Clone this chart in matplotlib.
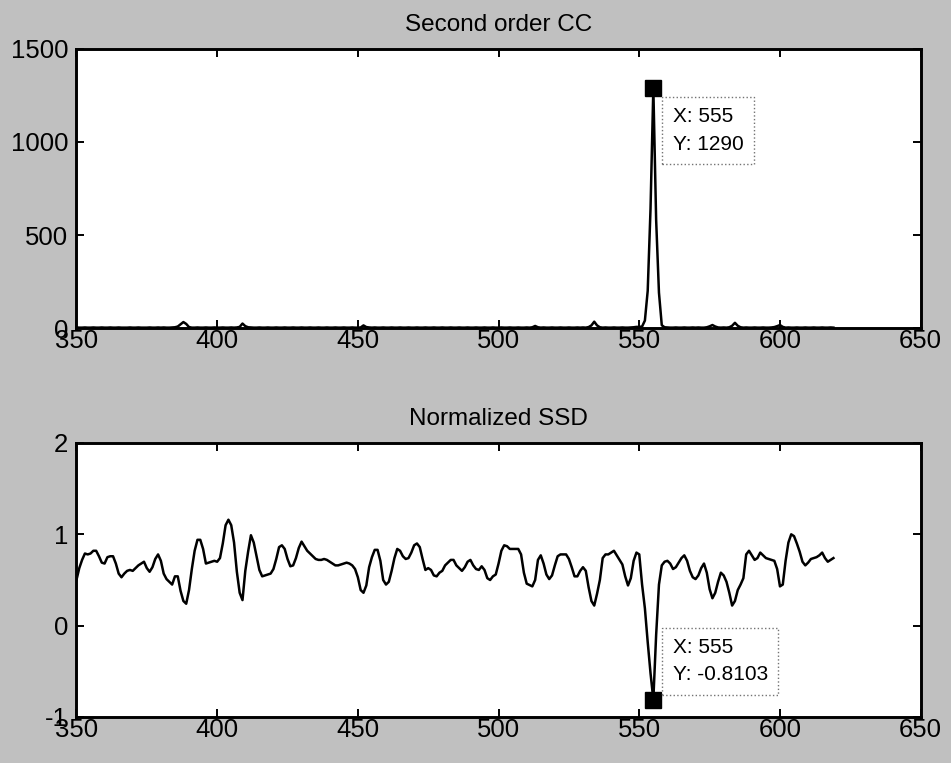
import numpy as np
import matplotlib.pyplot as plt

# lag positions searched (integer pixel offsets)
lags = np.arange(350, 620)

# second order cross-correlation score for each lag
cc2 = [
    3, 2, 2, 3, 2, 2, 3, 2, 2, 3,
    2, 2, 3, 2, 2, 3, 2, 2, 2, 3,
    2, 2, 3, 2, 2, 2, 3, 2, 2, 3,
    2, 3, 2, 2, 3, 4, 8, 20, 32, 22,
    5, 2, 2, 3, 2, 2, 3, 2, 2, 3,
    2, 2, 3, 2, 2, 3, 2, 3, 6, 24,
    10, 4, 3, 2, 2, 3, 2, 2, 3, 2,
    2, 3, 2, 2, 3, 2, 2, 3, 2, 2,
    3, 2, 2, 3, 2, 2, 3, 2, 2, 3,
    2, 2, 3, 2, 2, 3, 2, 2, 3, 2,
    2, 3, 14, 5, 3, 2, 3, 2, 2, 3,
    2, 2, 3, 2, 2, 3, 2, 2, 3, 2,
    2, 3, 2, 2, 3, 2, 2, 3, 2, 2,
    3, 2, 2, 3, 2, 2, 3, 2, 2, 3,
    2, 2, 3, 2, 2, 3, 2, 2, 3, 2,
    2, 3, 2, 2, 3, 2, 2, 3, 2, 2,
    3, 2, 4, 11, 4, 2, 3, 2, 2, 3,
    2, 2, 3, 2, 2, 3, 2, 2, 3, 2,
    3, 2, 5, 14, 34, 14, 4, 2, 3, 2,
    2, 3, 2, 2, 3, 2, 2, 3, 4, 6,
    6, 8, 40, 200, 640, 1290, 580, 190, 15, 4,
    3, 2, 2, 3, 2, 2, 3, 2, 2, 3,
    2, 3, 2, 2, 4, 9, 16, 8, 3, 2,
    3, 2, 4, 12, 28, 12, 4, 2, 3, 2,
    2, 3, 2, 2, 3, 2, 2, 3, 5, 10,
    16, 6, 2, 3, 2, 2, 3, 2, 2, 3,
    2, 2, 3, 2, 2, 3, 2, 2, 3, 2,
]

# normalized sum of squared differences for each lag
ssd = [
    0.50, 0.63, 0.72, 0.79, 0.78, 0.79, 0.82, 0.82, 0.76, 0.69,
    0.68, 0.75, 0.76, 0.76, 0.68, 0.57, 0.53, 0.57, 0.60, 0.61,
    0.60, 0.63, 0.66, 0.68, 0.70, 0.63, 0.59, 0.64, 0.73, 0.78,
    0.71, 0.57, 0.51, 0.48, 0.45, 0.54, 0.54, 0.38, 0.27, 0.24,
    0.39, 0.62, 0.82, 0.94, 0.94, 0.84, 0.68, 0.69, 0.70, 0.71,
    0.70, 0.74, 0.90, 1.10, 1.16, 1.10, 0.91, 0.59, 0.36, 0.28,
    0.60, 0.81, 0.99, 0.91, 0.76, 0.61, 0.54, 0.55, 0.56, 0.57,
    0.62, 0.73, 0.86, 0.88, 0.84, 0.73, 0.65, 0.66, 0.74, 0.85,
    0.92, 0.87, 0.82, 0.79, 0.76, 0.73, 0.72, 0.72, 0.73, 0.72,
    0.70, 0.68, 0.66, 0.66, 0.67, 0.68, 0.69, 0.68, 0.66, 0.62,
    0.53, 0.39, 0.36, 0.44, 0.64, 0.75, 0.83, 0.83, 0.71, 0.50,
    0.45, 0.48, 0.60, 0.74, 0.84, 0.82, 0.76, 0.73, 0.74, 0.80,
    0.88, 0.90, 0.86, 0.73, 0.61, 0.63, 0.61, 0.55, 0.54, 0.58,
    0.60, 0.66, 0.69, 0.72, 0.72, 0.66, 0.63, 0.60, 0.64, 0.70,
    0.72, 0.66, 0.62, 0.61, 0.65, 0.61, 0.52, 0.50, 0.54, 0.56,
    0.68, 0.82, 0.88, 0.87, 0.84, 0.84, 0.84, 0.84, 0.78, 0.58,
    0.46, 0.445, 0.43, 0.50, 0.72, 0.77, 0.68, 0.56, 0.51, 0.55,
    0.66, 0.76, 0.78, 0.78, 0.78, 0.73, 0.64, 0.54, 0.54, 0.60,
    0.64, 0.60, 0.42, 0.27, 0.22, 0.35, 0.50, 0.74, 0.78, 0.78,
    0.80, 0.82, 0.77, 0.72, 0.67, 0.54, 0.44, 0.52, 0.71, 0.80,
    0.78, 0.45, 0.19, -0.18, -0.52, -0.8103, -0.10, 0.45, 0.66, 0.70,
    0.71, 0.68, 0.62, 0.64, 0.69, 0.74, 0.77, 0.71, 0.60, 0.53,
    0.51, 0.55, 0.63, 0.68, 0.58, 0.40, 0.30, 0.36, 0.48, 0.58,
    0.55, 0.48, 0.36, 0.22, 0.27, 0.39, 0.45, 0.52, 0.78, 0.82,
    0.77, 0.72, 0.74, 0.80, 0.77, 0.74, 0.73, 0.72, 0.71, 0.62,
    0.43, 0.45, 0.71, 0.91, 1.00, 0.98, 0.90, 0.81, 0.70, 0.66,
    0.69, 0.73, 0.74, 0.75, 0.77, 0.80, 0.74, 0.70, 0.72, 0.74,
]

best_lag = 555
best_cc = 1290
best_ssd = -0.8103

plt.rcParams['font.family'] = ['Liberation Sans', 'DejaVu Sans']
plt.rcParams['axes.unicode_minus'] = False


def style_axes(ax, yticks, ylim):
    ax.set_xlim(350, 650)
    ax.set_ylim(*ylim)
    ax.set_xticks(range(350, 651, 50))
    ax.set_yticks(yticks)
    ax.tick_params(direction='in', length=6, width=1.4, top=True, right=True,
                   labelsize=18.5, colors='black')
    ax.tick_params(axis='x', pad=1)
    ax.tick_params(axis='y', pad=6)
    for sp in ax.spines.values():
        sp.set_linewidth(2.1)


def datatip(ax, x, y, below):
    ax.plot(x, y, 's', color='black', ms=11, zorder=5)
    text = 'X: %d\nY: %s' % (x, ('%g' % y))
    box = dict(boxstyle='square,pad=0.5', fc='white', ec='0.45', ls=':', lw=1)
    if below:
        ax.annotate(text, xy=(x, y), xytext=(14, -14), textcoords='offset points',
                    ha='left', va='top', fontsize=15, linespacing=1.55,
                    bbox=box, zorder=6)
    else:
        ax.annotate(text, xy=(x, y), xytext=(14, 11), textcoords='offset points',
                    ha='left', va='bottom', fontsize=15, linespacing=1.55,
                    bbox=box, zorder=6)


def main():
    fig = plt.figure(figsize=(9.51, 7.63), dpi=100, facecolor='#c0c0c0')

    ax1 = fig.add_axes([0.0804, 0.5701, 0.8877, 0.3657])
    ax1.plot(lags, cc2, color='black', lw=1.8)
    style_axes(ax1, [0, 500, 1000, 1500], (0, 1500))
    ax1.set_title('Second order CC', fontsize=17.5, pad=13)
    datatip(ax1, best_lag, best_cc, below=True)

    ax2 = fig.add_axes([0.0804, 0.0603, 0.8877, 0.3591])
    ax2.plot(lags, ssd, color='black', lw=1.8)
    style_axes(ax2, [-1, 0, 1, 2], (-1, 2))
    ax2.set_title('Normalized SSD', fontsize=17.5, pad=13)
    datatip(ax2, best_lag, best_ssd, below=False)

    fig.savefig('out.png', dpi=100, facecolor=fig.get_facecolor())


if __name__ == "__main__":
    main()
